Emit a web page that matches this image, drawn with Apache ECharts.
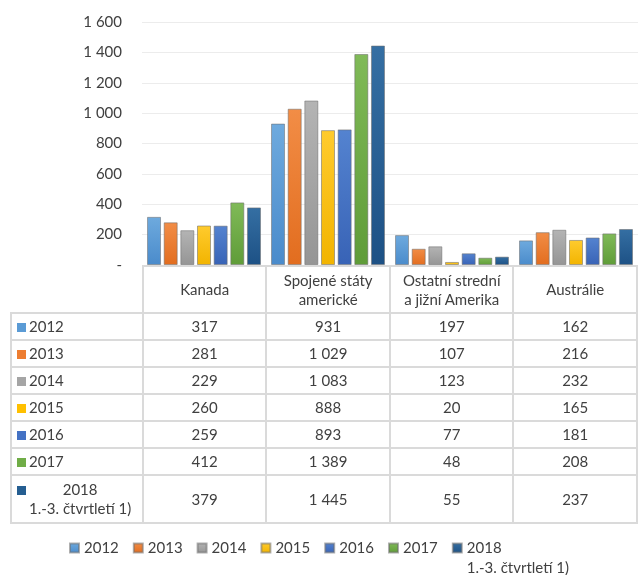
<!DOCTYPE html>
<html>
<head>
<meta charset="utf-8">
<script src="https://cdn.jsdelivr.net/npm/echarts@6/dist/echarts.min.js"></script>
<style>
  html, body { margin: 0; padding: 0; background: #fff; }
  #wrap { position: relative; width: 638px; height: 575px; overflow: hidden; }
  #chart { position: absolute; left: 0; top: 0; width: 638px; height: 575px; }
  #tbl { position: absolute; left: 10px; top: 265px; border-collapse: collapse; table-layout: fixed;
         font-family: Lato, sans-serif; font-size: 15px; color: #404040; }
  #tbl td { border: 2px solid #dadada; text-align: center; padding: 0; line-height: 19px; }
  #tbl td.year { text-align: left; padding-left: 5px; white-space: nowrap; }
  #tbl td.blank { border-top: none; border-left: none; }
  .ico { display: inline-block; width: 9px; height: 9px; margin-right: 3px; vertical-align: 0px; }
  .multi { display: inline-block; text-align: center; vertical-align: middle; }
</style>
</head>
<body>
<div id="wrap">
  <div id="chart"></div>
  <table id="tbl"></table>
</div>
<script>
// kategorie a hodnoty
const categories = ['Kanada', 'Spojené státy\namerické', 'Ostatní strední\na jižní Amerika', 'Austrálie'];
const years = ['2012', '2013', '2014', '2015', '2016', '2017', '2018\n1.-3. čtvrtletí 1)'];
const v2012 = [317, 931, 197, 162];
const v2013 = [281, 1029, 107, 216];
const v2014 = [229, 1083, 123, 232];
const v2015 = [260, 888, 20, 165];
const v2016 = [259, 893, 77, 181];
const v2017 = [412, 1389, 48, 208];
const v2018 = [379, 1445, 55, 237];
const values = [v2012, v2013, v2014, v2015, v2016, v2017, v2018];

// barvy (horni / dolni cast prechodu)
const colors = ['#5b9bd5', '#ed7d31', '#a5a5a5', '#ffc000', '#4472c4', '#70ad47', '#255e91'];
const colorsTop = ['#6eaade', '#f28d46', '#b4b4b4', '#ffcb2e', '#5483d0', '#80ba58', '#356fa3'];
const colorsBottom = ['#4a8bcb', '#e26d1f', '#959595', '#f2b400', '#3863b6', '#5f9c38', '#1d5185'];

const fmt = v => v === 0 ? '-' : String(v).replace(/\B(?=(\d{3})+(?!\d))/g, ' ');

const myChart = echarts.init(document.getElementById('chart'));

const series = years.map((y, i) => ({
  name: y,
  type: 'bar',
  data: values[i],
  barWidth: 14,
  barGap: '19%',
  itemStyle: {
    color: new echarts.graphic.LinearGradient(0, 0, 0, 1, [
      { offset: 0, color: colorsTop[i] },
      { offset: 1, color: colorsBottom[i] }
    ]),
    borderColor: 'rgba(110,110,110,0.55)',
    borderWidth: 1
  }
}));

myChart.setOption({
  animation: false,
  textStyle: { fontFamily: 'Lato, sans-serif' },
  grid: { left: 142, right: 0, top: 22, height: 243 },
  xAxis: {
    type: 'category',
    data: categories,
    axisLine: { show: false },
    axisTick: { show: false },
    axisLabel: { show: false }
  },
  yAxis: {
    type: 'value',
    min: 0,
    max: 1600,
    interval: 200,
    axisLine: { show: false },
    axisTick: { show: false },
    splitLine: { lineStyle: { color: '#ececec', width: 1 } },
    axisLabel: { formatter: fmt, color: '#404040', fontSize: 15, margin: 20, fontFamily: 'Lato, sans-serif' }
  },
  legend: {
    left: 69,
    top: 518,
    padding: 0,
    itemWidth: 9,
    itemHeight: 9,
    itemGap: 14,
    icon: 'rect',
    textStyle: { color: '#404040', fontSize: 15, lineHeight: 20 },
    // prazdny prvni radek posune "2018" na uroven ikony
    formatter: name => name.indexOf('\n') >= 0 ? '\n' + name : name
  },
  series: series
});

// tabulka s daty pod grafem
const tbl = document.getElementById('tbl');
const colW = [132, 124, 124, 124, 124];
let html = '<colgroup>' + colW.map(w => `<col style="width:${w}px">`).join('') + '</colgroup>';
html += '<tr style="height:47px"><td class="blank"></td>' +
  categories.map(c => `<td>${c.replace('\n', '<br>')}</td>`).join('') + '</tr>';
years.forEach((y, i) => {
  const last = i === years.length - 1;
  const label = last
    ? `<span class="ico" style="background:${colors[i]};vertical-align:top;margin-top:6px"></span><span class="multi">${y.replace('\n', '<br>')}</span>`
    : `<span class="ico" style="background:${colors[i]}"></span>${y}`;
  html += `<tr style="height:${last ? 48 : 27}px"><td class="year">${label}</td>` +
    values[i].map(v => `<td>${fmt(v)}</td>`).join('') + '</tr>';
});
tbl.innerHTML = html;

window.addEventListener('resize', () => {
  myChart.resize();
});
</script>
</body>
</html>
